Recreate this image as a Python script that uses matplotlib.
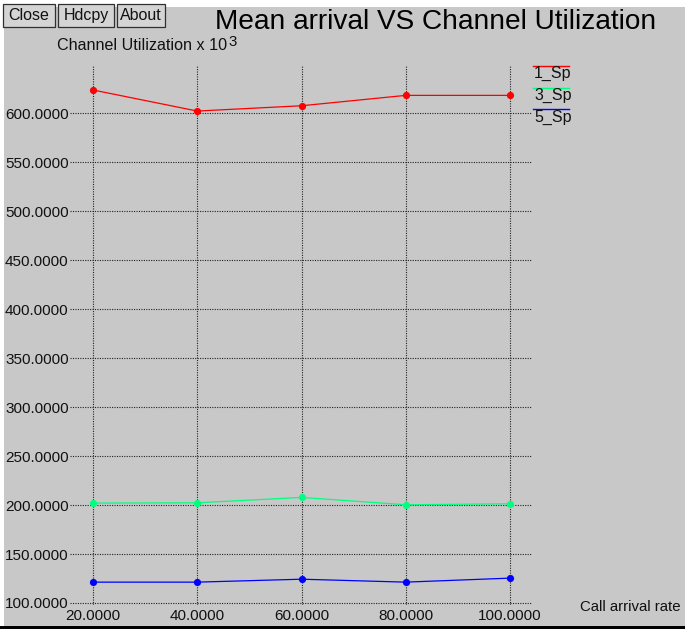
import matplotlib
matplotlib.use("Agg")
import matplotlib.pyplot as plt
from matplotlib.patches import Rectangle
from matplotlib.lines import Line2D

# ---- data ----
arrival_rate = [20, 40, 60, 80, 100]
sp1 = [623.8, 602.3, 607.7, 618.3, 618.3]
sp3 = [202.0, 202.3, 207.8, 200.3, 201.3]
sp5 = [121.3, 121.3, 124.3, 121.3, 125.4]
series_names = ["1_Sp", "3_Sp", "5_Sp"]
series_colors = ["#ff0000", "#00ff7f", "#0000ff"]
xticks = [20, 40, 60, 80, 100]
yticks = [100, 150, 200, 250, 300, 350, 400, 450, 500, 550, 600]

W, H = 685, 629
DPI = 100
BG = "#c8c8c8"
FONT = "Liberation Sans"
FS = 11

fig = plt.figure(figsize=(W / DPI, H / DPI), dpi=DPI, facecolor="white")

def fx(x):
    return x / W

def fy(y):
    return 1 - y / H

# grey window background and bottom border
fig.patches.append(Rectangle((fx(4), fy(626)), fx(W) - fx(4), fy(7) - fy(626),
                             transform=fig.transFigure, facecolor=BG, edgecolor="none", zorder=-10))
fig.patches.append(Rectangle((0, 0), 1, fy(626), transform=fig.transFigure,
                             facecolor="black", edgecolor="none", zorder=-10))

# buttons
for label, x0, x1 in [("Close", 3, 55), ("Hdcpy", 58, 114), ("About", 117, 165)]:
    fig.patches.append(Rectangle((fx(x0), fy(27)), fx(x1) - fx(x0), fy(4) - fy(27),
                                 transform=fig.transFigure, facecolor="#d4d4d4",
                                 edgecolor="#303030", linewidth=0.9, zorder=1))
    fig.text(fx((x0 + x1) / 2), fy(15.5), label, ha="center", va="center",
             fontsize=11.5, family=FONT, color="#111111", zorder=2)

# title
fig.text(fx(436), fy(22), "Mean arrival VS Channel Utilization", ha="center", va="center",
         fontsize=20.2, family=FONT, color="black")

# y label (with raised exponent)
fig.text(fx(57), fy(46), "Channel Utilization x 10", ha="left", va="center",
         fontsize=11.6, family=FONT, color="#111111")
fig.text(fx(228.5), fy(41.5), "3", ha="left", va="center",
         fontsize=10.8, family=FONT, color="#111111")

# axes
ax_l, ax_r, ax_t, ax_b = 70, 532, 65, 605
ax = fig.add_axes([fx(ax_l), fy(ax_b), fx(ax_r) - fx(ax_l), fy(ax_t) - fy(ax_b)])
ax.set_facecolor("none")
ax.patch.set_alpha(0)

# pixel-to-data mapping derived from gridline positions
px_per_x = (510 - 93) / 80.0
xmin = 20 - (93 - ax_l) / px_per_x
xmax = 20 + (ax_r - 93) / px_per_x
px_per_y = (603 - 113.3) / 500.0
ymin = 100 - (ax_b - 603) / px_per_y
ymax = 100 + (603 - ax_t) / px_per_y
ax.set_xlim(xmin, xmax)
ax.set_ylim(ymin, ymax)

for s in ax.spines.values():
    s.set_visible(False)

ax.set_xticks(xticks)
ax.set_xticklabels([f"{v:.4f}" for v in xticks])
ax.set_yticks(yticks)
ax.set_yticklabels([f"{v:.4f}" for v in yticks])
ax.tick_params(axis="both", length=0, labelsize=FS, colors="#111111")
ax.tick_params(axis="y", pad=1)
ax.tick_params(axis="x", pad=3)
for lab in ax.get_xticklabels() + ax.get_yticklabels():
    lab.set_family(FONT)

ax.grid(True, color="#222222", linestyle=(0, (1, 1.2)), linewidth=0.8)
ax.set_axisbelow(True)

for vals, color in zip([sp1, sp3, sp5], series_colors):
    ax.plot(arrival_rate, vals, color=color, linewidth=0.9, marker="o",
            markersize=5.2, markeredgewidth=0, clip_on=False, zorder=3)

# legend (xgraph style: line above each label)
leg_y = [65.7, 87.5, 109]
for name, color, ly in zip(series_names, series_colors, leg_y):
    fig.add_artist(Line2D([fx(533), fx(569)], [fy(ly), fy(ly)], transform=fig.transFigure,
                          color=color, linewidth=1.0))
    fig.text(fx(534), fy(ly + 8), name, ha="left", va="center", fontsize=11.5,
             family=FONT, color="#111111")

# x label
fig.text(fx(580), fy(607), "Call arrival rate", ha="left", va="center",
         fontsize=10.8, family=FONT, color="#111111")

fig.savefig("out.png", dpi=DPI, facecolor="white")
